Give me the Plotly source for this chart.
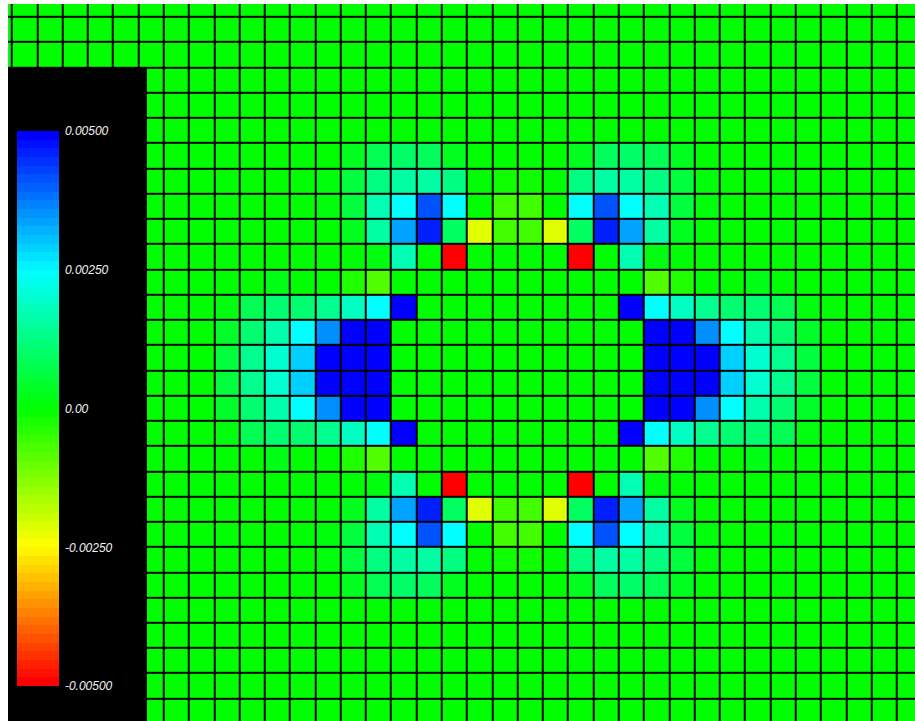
import numpy as np
import plotly.graph_objects as go

# Mesh cell indices visible in the view (cells are unit squares)
col_index = list(range(-1, 36))
row_index = list(range(-1, 28))

# Scalar field on the patch of cells around the feature, in units of 1e-3.
# Patch origin: column 7, row 3 (26 columns x 22 rows); all other cells are 0.
patch_col0 = 7
patch_row0 = 3
patch_values = [
    [0, 0, 0, 0, 0, 0, 0, 0, 0, 0, 0, 0, 0, 0, 0, 0, 0, 0, 0, 0, 0, 0, 0, 0, 0, 0],
    [0, 0, 0, 0, 0, 0, 0, 0, 0, 0, 0, 0, 0, 0, 0, 0, 0, 0, 0, 0, 0, 0, 0, 0, 0, 0],
    [0, 0, 0, 0, 0, 0, 0.3, 0.8, 1.0, 0.9, 0.3, 0, 0, 0, 0, 0.3, 0.9, 1.0, 0.8, 0.3, 0, 0, 0, 0, 0, 0],
    [0, 0, 0, 0, 0, 0.1, 0.6, 1.25, 1.6, 1.6, 1.25, 0.05, -0.15, -0.15, 0.05, 1.25, 1.6, 1.6, 1.25, 0.6, 0.1, 0, 0, 0, 0, 0],
    [0, 0, 0, 0, 0, 0.1, 0.6, 1.75, 2.5, 4.2, 2.5, 0, -0.65, -0.65, 0, 2.5, 4.2, 2.5, 1.75, 0.6, 0.1, 0, 0, 0, 0, 0],
    [0, 0, 0, 0, 0, 0, 0.3, 1.6, 3.4, 4.7, 0.95, -2.2, -0.65, -0.65, -2.2, 0.95, 4.7, 3.4, 1.6, 0.3, 0, 0, 0, 0, 0, 0],
    [0, 0, 0, 0, 0, 0, 0.05, 0.15, 1.75, 0, -5.5, 0, 0, 0, 0, -5.5, 0, 1.75, 0.15, 0.05, 0, 0, 0, 0, 0, 0],
    [0, 0, 0, 0.2, 0, 0, -0.3, -0.8, 0, 0, 0, 0, 0, 0, 0, 0, 0, 0, -0.8, -0.3, 0, 0, 0.2, 0, 0, 0],
    [0, 0.15, 0.8, 1.1, 1.1, 1.4, 1.9, 2.5, 5.5, 0, 0, 0, 0, 0, 0, 0, 0, 5.5, 2.5, 1.9, 1.4, 1.1, 1.1, 0.8, 0.15, 0],
    [0, 0.4, 1.1, 1.7, 2.5, 3.6, 5.5, 5.5, 0, 0, 0, 0, 0, 0, 0, 0, 0, 0, 5.5, 5.5, 3.6, 2.5, 1.7, 1.1, 0.4, 0],
    [0, 0.6, 1.4, 2.05, 2.96, 5.5, 5.5, 5.5, 0, 0, 0, 0, 0, 0, 0, 0, 0, 0, 5.5, 5.5, 5.5, 2.96, 2.05, 1.4, 0.6, 0],
    [0, 0.6, 1.4, 2.05, 2.96, 5.5, 5.5, 5.5, 0, 0, 0, 0, 0, 0, 0, 0, 0, 0, 5.5, 5.5, 5.5, 2.96, 2.05, 1.4, 0.6, 0],
    [0, 0.4, 1.1, 1.7, 2.5, 3.6, 5.5, 5.5, 0, 0, 0, 0, 0, 0, 0, 0, 0, 0, 5.5, 5.5, 3.6, 2.5, 1.7, 1.1, 0.4, 0],
    [0, 0.15, 0.8, 1.1, 1.1, 1.4, 1.9, 2.5, 5.5, 0, 0, 0, 0, 0, 0, 0, 0, 5.5, 2.5, 1.9, 1.4, 1.1, 1.1, 0.8, 0.15, 0],
    [0, 0, 0, 0.2, 0, 0, -0.3, -0.8, 0, 0, 0, 0, 0, 0, 0, 0, 0, 0, -0.8, -0.3, 0, 0, 0.2, 0, 0, 0],
    [0, 0, 0, 0, 0, 0, 0.05, 0.15, 1.75, 0, -5.5, 0, 0, 0, 0, -5.5, 0, 1.75, 0.15, 0.05, 0, 0, 0, 0, 0, 0],
    [0, 0, 0, 0, 0, 0, 0.3, 1.6, 3.4, 4.7, 0.95, -2.2, -0.65, -0.65, -2.2, 0.95, 4.7, 3.4, 1.6, 0.3, 0, 0, 0, 0, 0, 0],
    [0, 0, 0, 0, 0, 0.1, 0.6, 1.75, 2.5, 4.2, 2.5, 0, -0.65, -0.65, 0, 2.5, 4.2, 2.5, 1.75, 0.6, 0.1, 0, 0, 0, 0, 0],
    [0, 0, 0, 0, 0, 0.1, 0.6, 1.25, 1.6, 1.6, 1.25, 0.05, -0.15, -0.15, 0.05, 1.25, 1.6, 1.6, 1.25, 0.6, 0.1, 0, 0, 0, 0, 0],
    [0, 0, 0, 0, 0, 0, 0.3, 0.8, 1.0, 0.9, 0.3, 0, 0, 0, 0, 0.3, 0.9, 1.0, 0.8, 0.3, 0, 0, 0, 0, 0, 0],
    [0, 0, 0, 0, 0, 0, 0, 0, 0, 0, 0, 0, 0, 0, 0, 0, 0, 0, 0, 0, 0, 0, 0, 0, 0, 0],
    [0, 0, 0, 0, 0, 0, 0, 0, 0, 0, 0, 0, 0, 0, 0, 0, 0, 0, 0, 0, 0, 0, 0, 0, 0, 0],
]
value_unit = 1e-3

# Scalar range and colour bar labels
range_min = -0.005
range_max = 0.005
tick_values = [0.005, 0.0025, 0.0, -0.0025, -0.005]
tick_labels = ["0.00500", "0.00250", "0.00", "-0.00250", "-0.00500"]

# Assemble the full cell grid
z = np.zeros((len(row_index), len(col_index)))
patch = np.array(patch_values) * value_unit
r0 = row_index.index(patch_row0)
c0 = col_index.index(patch_col0)
z[r0:r0 + patch.shape[0], c0:c0 + patch.shape[1]] = patch

# Rainbow lookup: red (min) -> yellow -> green -> cyan -> blue (max)
rainbow = [
    [0.0, "rgb(255,0,0)"],
    [0.25, "rgb(255,255,0)"],
    [0.5, "rgb(0,255,0)"],
    [0.75, "rgb(0,255,255)"],
    [1.0, "rgb(0,0,255)"],
]


def hsv_rgb(h):
    """Fully saturated colour for hue h in degrees (0..240)."""
    seg = h / 60.0
    k = int(np.floor(seg))
    f = seg - k
    if k == 0:
        r, g, b = 1, f, 0
    elif k == 1:
        r, g, b = 1 - f, 1, 0
    elif k == 2:
        r, g, b = 0, 1, f
    elif k == 3:
        r, g, b = 0, 1 - f, 1
    else:
        r, g, b = 0, 0, 1
    return "rgb(%d,%d,%d)" % (round(r * 255), round(g * 255), round(b * 255))


# Banded version for the scalar bar (64 colours)
n_bands = 64
banded = []
for k in range(n_bands):
    col = hsv_rgb(240.0 * k / (n_bands - 1))
    banded.append([k / n_bands, col])
    banded.append([(k + 1) / n_bands, col])

fig = go.Figure()

fig.add_trace(go.Heatmap(
    x=[c + 0.5 for c in col_index],
    y=[r + 0.5 for r in row_index],
    z=z,
    zmin=range_min,
    zmax=range_max,
    colorscale=rainbow,
    showscale=False,
    xgap=2,
    ygap=2,
    hoverinfo="skip",
))

fig.add_trace(go.Scatter(
    x=[None],
    y=[None],
    mode="markers",
    hoverinfo="skip",
    showlegend=False,
    marker=dict(
        color=[0],
        cmin=range_min,
        cmax=range_max,
        colorscale=banded,
        showscale=True,
        colorbar=dict(
            xref="container",
            yref="container",
            x=17 / 915,
            xanchor="left",
            y=1 - 132 / 721,
            yanchor="top",
            len=555,
            lenmode="pixels",
            thickness=42,
            thicknessmode="pixels",
            xpad=0,
            ypad=0,
            outlinewidth=0,
            bgcolor="rgba(0,0,0,0)",
            tickvals=tick_values,
            ticktext=tick_labels,
            ticks="outside",
            ticklen=4,
            tickcolor="black",
            tickfont=dict(family="Liberation Sans, Arial, sans-serif",
                          size=12, color="#f2f2f2", style="italic"),
        ),
    ),
))

# Black panel behind the scalar bar
fig.add_shape(
    type="rect",
    xref="paper", yref="paper",
    x0=0, x1=139 / 907,
    y0=0, y1=(721 - 68) / 717,
    fillcolor="black",
    line=dict(width=0),
    layer="above",
)

fig.update_layout(
    width=915,
    height=721,
    margin=dict(l=8, r=0, t=4, b=0, autoexpand=False),
    paper_bgcolor="white",
    plot_bgcolor="black",
    showlegend=False,
    xaxis=dict(visible=False, range=[-4 / 25.28, 903 / 25.28], fixedrange=True),
    yaxis=dict(visible=False, range=[704 / 25.24, -13 / 25.24], fixedrange=True),
)

fig.write_html("out.html")
